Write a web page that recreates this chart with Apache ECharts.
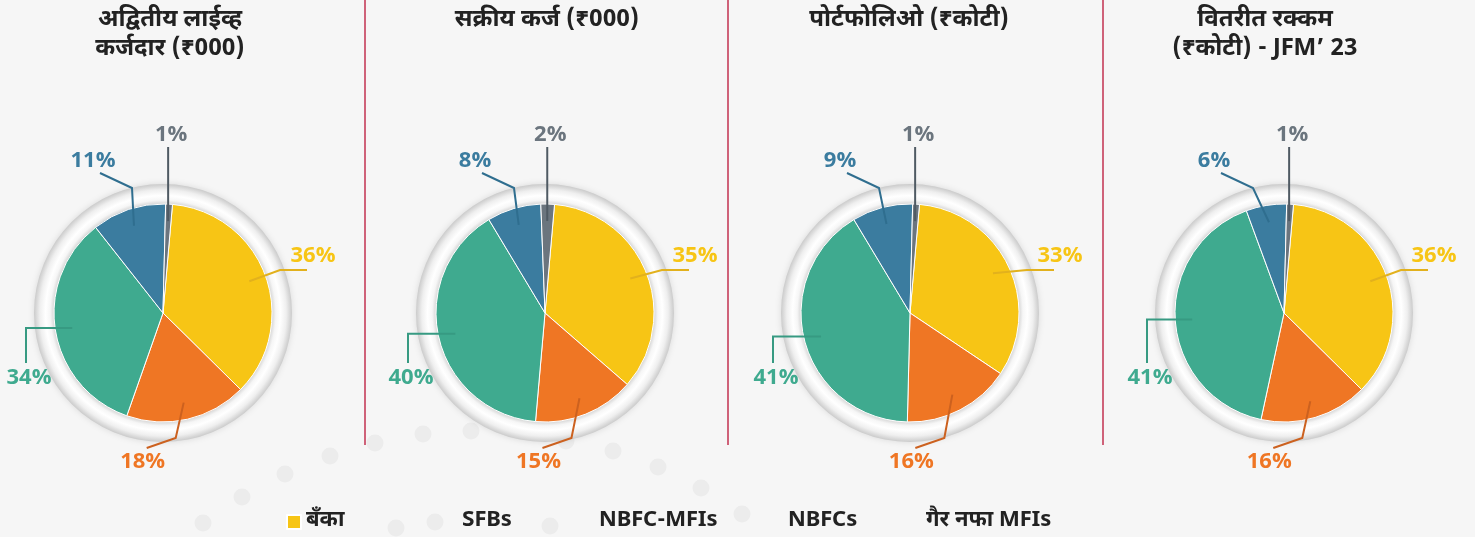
<!DOCTYPE html>
<html>
<head>
<meta charset="utf-8">
<script src="https://cdn.jsdelivr.net/npm/echarts@6/dist/echarts.min.js"></script>
<style>
    html, body { margin: 0; padding: 0; background: #f6f6f6; }
    #main { width: 1475px; height: 537px; }
</style>
</head>
<body>
<div id="main"></div>
<script>
! function() {
    'use strict'
    // data
    var categories = ['बँका', 'SFBs', 'NBFC-MFIs', 'NBFCs', 'गैर नफा MFIs'];
    var titles = ['अद्वितीय लाईव्ह\nकर्जदार (₹000)', 'सक्रीय कर्ज (₹000)', 'पोर्टफोलिओ (₹कोटी)', 'वितरीत रक्कम\n(₹कोटी) - JFM’ 23'];
    var borrowers = [36, 18, 34, 11, 1];
    var activeLoans = [35, 15, 40, 8, 2];
    var portfolio = [33, 16, 41, 9, 1];
    var disbursed = [36, 16, 41, 6, 1];
    var panels = [borrowers, activeLoans, portfolio, disbursed];

    // look
    var sliceColors = ['#f7c515', '#ef7624', '#3faa8f', '#3b7c9f', '#6b757e'];
    var lineColors = ['#e2b11d', '#cc611f', '#379a82', '#2f6e8f', '#4f5a63'];
    var centersX = [163, 545, 910, 1284];
    var centerY = 313;
    var devaFont = '"Noto Sans Devanagari", "Lohit Devanagari", "Liberation Sans", "Noto Sans", sans-serif';
    var pctFont = '"Open Sans", "Noto Sans", sans-serif';

    var chart = echarts.init(document.getElementById('main'));

    function makeLabelLayout(k) {
        var cx = centersX[k], cy = centerY;
        return function(p) {
            var pts = p.labelLinePoints;
            if (!pts) return;
            var p0 = pts[0], p1, p2, lx, ly;
            switch (p.dataIndex) {
                case 0:
                    p1 = [cx + 117, cy - 43]; p2 = [cx + 144, cy - 43];
                    lx = cx + 150; ly = cy - 57; break;
                case 1:
                    p1 = [p0[0] - 8, cy + 125]; p2 = [p1[0] - 29, cy + 135];
                    lx = p2[0] - 4; ly = cy + 149; break;
                case 2:
                    p1 = [cx - 137, p0[1]]; p2 = [cx - 137, cy + 50];
                    lx = cx - 134; ly = cy + 65; break;
                case 3:
                    p1 = [cx - 31, cy - 125]; p2 = [cx - 63, cy - 140];
                    lx = cx - 70; ly = cy - 152; break;
                default:
                    p1 = [p0[0], cy - 166]; p2 = p1;
                    lx = p0[0] + 3; ly = cy - 178;
            }
            return {
                x: lx, y: ly, align: 'center', verticalAlign: 'middle',
                labelLinePoints: [p0, p1, p2]
            };
        };
    }

    var ringColor = {
        type: 'radial', x: 0.5, y: 0.5, r: 0.5,
        colorStops: [
            { offset: 0.82, color: '#c4c4c4' },
            { offset: 0.85, color: '#dcdcdc' },
            { offset: 0.875, color: '#f6f6f6' },
            { offset: 0.91, color: '#ffffff' },
            { offset: 0.955, color: '#efefef' },
            { offset: 1, color: '#cbcbcb' }
        ]
    };

    var series = [];
    panels.forEach(function(values, k) {
        var center = [centersX[k], centerY];
        // bezel ring
        series.push({
            type: 'pie', silent: true, radius: [105, 129], center: center,
            label: { show: false }, labelLine: { show: false },
            itemStyle: { color: ringColor, shadowBlur: 6, shadowColor: 'rgba(0,0,0,0.12)' },
            data: [{ value: 1, name: '' }], z: 1
        });
        // pie
        series.push({
            type: 'pie', radius: [0, 109], center: center,
            startAngle: 85, clockwise: true,
            label: { show: false }, labelLine: { show: false },
            emphasis: { scale: false },
            itemStyle: { borderColor: '#ffffff', borderWidth: 1 },
            data: values.map(function(v, i) {
                return { value: v, name: categories[i], itemStyle: { color: sliceColors[i] } };
            }),
            z: 2
        });
        // labels, lines start inside the slices
        series.push({
            type: 'pie', silent: true, radius: [0, 92], center: center,
            startAngle: 85, clockwise: true,
            itemStyle: { color: 'transparent' },
            label: {
                show: true, position: 'outside', formatter: '{c}%',
                width: 70, overflow: 'none',
                fontFamily: pctFont, fontWeight: 'bold', fontSize: 22
            },
            labelLine: { show: true, length: 20, length2: 20, smooth: false, lineStyle: { width: 2 } },
            labelLayout: makeLabelLayout(k),
            data: values.map(function(v, i) {
                return {
                    value: v, name: categories[i],
                    label: { color: sliceColors[i] },
                    labelLine: { lineStyle: { color: lineColors[i], width: 2 } }
                };
            }),
            z: 3
        });
    });

    // legends, one per item
    var legendLeft = [286, 442, 579, 768, 906];
    var legends = categories.map(function(name, i) {
        return {
            left: legendLeft[i], top: 511, padding: 0,
            icon: 'rect', itemWidth: 14, itemHeight: 14,
            selectedMode: false,
            textStyle: { fontFamily: devaFont, fontWeight: 'bold', fontSize: 22, color: '#222222' },
            data: [i === 0 ? { name: name } : { name: name, itemStyle: { opacity: 0 } }]
        };
    });

    // titles
    var titleX = [170, 547, 909, 1265];
    var graphics = titles.map(function(t, i) {
        var two = t.indexOf('\n') >= 0;
        return {
            type: 'text', x: titleX[i], y: two ? 36 : 22,
            style: {
                text: t, align: 'center', verticalAlign: 'middle', lineHeight: 29,
                font: 'bold 24px ' + devaFont, fill: '#222222'
            }
        };
    });
    // dividers
    [365, 728, 1103].forEach(function(x) {
        graphics.push({
            type: 'line', shape: { x1: x, y1: 0, x2: x, y2: 445 },
            style: { stroke: '#c2314f', lineWidth: 1.5 }, z: -1
        });
    });
    // faint background dots
    var dots = [[203, 523], [242, 497], [285, 474], [330, 456], [375, 443], [423, 434], [471, 431],
        [566, 441], [613, 451], [658, 467], [701, 488], [742, 514], [396, 528], [435, 522], [550, 526]];
    dots.forEach(function(d) {
        graphics.push({
            type: 'circle', shape: { cx: d[0], cy: d[1], r: 8.5 },
            style: { fill: '#ececec' }, z: -2, silent: true
        });
    });

    chart.setOption({
        backgroundColor: '#f6f6f6',
        animation: false,
        legend: legends,
        graphic: graphics,
        series: series
    });
}()
</script>
</body>
</html>
